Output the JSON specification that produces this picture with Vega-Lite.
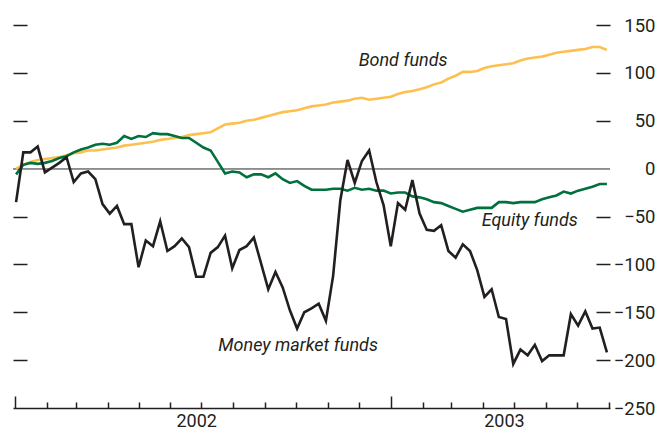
{
  "$schema": "https://vega.github.io/schema/vega-lite/v6.json",
  "width": 597,
  "height": 383,
  "autosize": {"type": "none"},
  "padding": {"left": 13, "top": 25, "right": 47, "bottom": 24},
  "background": "white",
  "config": {"view": {"stroke": null}, "font": "Liberation Sans Narrow, Roboto, sans-serif"},
  "datasets": {
    "flows": [
      {"d": "2002-01-02", "money": -35, "equity": -6, "bond": 0},
      {"d": "2002-01-09", "money": 17, "equity": 4, "bond": 4},
      {"d": "2002-01-16", "money": 17, "equity": 6, "bond": 7},
      {"d": "2002-01-23", "money": 23, "equity": 5, "bond": 9},
      {"d": "2002-01-30", "money": -4, "equity": 6, "bond": 10},
      {"d": "2002-02-06", "money": 1, "equity": 8, "bond": 11},
      {"d": "2002-02-13", "money": 6, "equity": 11, "bond": 12},
      {"d": "2002-02-20", "money": 12, "equity": 13, "bond": 14},
      {"d": "2002-02-27", "money": -14, "equity": 17, "bond": 16},
      {"d": "2002-03-06", "money": -5, "equity": 20, "bond": 17},
      {"d": "2002-03-13", "money": -3, "equity": 22, "bond": 19},
      {"d": "2002-03-20", "money": -11, "equity": 25, "bond": 19},
      {"d": "2002-03-27", "money": -37, "equity": 26, "bond": 20},
      {"d": "2002-04-03", "money": -47, "equity": 25, "bond": 21},
      {"d": "2002-04-10", "money": -39, "equity": 27, "bond": 22},
      {"d": "2002-04-17", "money": -58, "equity": 34, "bond": 24},
      {"d": "2002-04-24", "money": -58, "equity": 31, "bond": 25},
      {"d": "2002-05-01", "money": -103, "equity": 34, "bond": 26},
      {"d": "2002-05-08", "money": -75, "equity": 33, "bond": 27},
      {"d": "2002-05-15", "money": -81, "equity": 37, "bond": 28},
      {"d": "2002-05-22", "money": -55, "equity": 36, "bond": 30},
      {"d": "2002-05-29", "money": -86, "equity": 36, "bond": 31},
      {"d": "2002-06-05", "money": -81, "equity": 34, "bond": 32},
      {"d": "2002-06-12", "money": -73, "equity": 32, "bond": 33},
      {"d": "2002-06-19", "money": -82, "equity": 32, "bond": 35},
      {"d": "2002-06-26", "money": -113, "equity": 27, "bond": 36},
      {"d": "2002-07-03", "money": -113, "equity": 22, "bond": 37},
      {"d": "2002-07-10", "money": -88, "equity": 19, "bond": 38},
      {"d": "2002-07-17", "money": -82, "equity": 7, "bond": 42},
      {"d": "2002-07-24", "money": -70, "equity": -5, "bond": 46},
      {"d": "2002-07-31", "money": -104, "equity": -3, "bond": 47},
      {"d": "2002-08-07", "money": -85, "equity": -4, "bond": 48},
      {"d": "2002-08-14", "money": -81, "equity": -9, "bond": 50},
      {"d": "2002-08-21", "money": -72, "equity": -6, "bond": 51},
      {"d": "2002-08-28", "money": -99, "equity": -6, "bond": 53},
      {"d": "2002-09-04", "money": -126, "equity": -9, "bond": 55},
      {"d": "2002-09-11", "money": -108, "equity": -5, "bond": 57},
      {"d": "2002-09-18", "money": -124, "equity": -11, "bond": 59},
      {"d": "2002-09-25", "money": -148, "equity": -15, "bond": 60},
      {"d": "2002-10-02", "money": -167, "equity": -13, "bond": 61},
      {"d": "2002-10-09", "money": -150, "equity": -18, "bond": 63},
      {"d": "2002-10-16", "money": -146, "equity": -22, "bond": 65},
      {"d": "2002-10-23", "money": -141, "equity": -22, "bond": 66},
      {"d": "2002-10-30", "money": -159, "equity": -22, "bond": 67},
      {"d": "2002-11-06", "money": -112, "equity": -21, "bond": 69},
      {"d": "2002-11-13", "money": -33, "equity": -21, "bond": 70},
      {"d": "2002-11-20", "money": 9, "equity": -23, "bond": 71},
      {"d": "2002-11-27", "money": -15, "equity": -20, "bond": 73},
      {"d": "2002-12-04", "money": 8, "equity": -22, "bond": 74},
      {"d": "2002-12-11", "money": 19, "equity": -21, "bond": 72},
      {"d": "2002-12-18", "money": -14, "equity": -23, "bond": 73},
      {"d": "2002-12-25", "money": -38, "equity": -23, "bond": 74},
      {"d": "2003-01-01", "money": -81, "equity": -26, "bond": 75},
      {"d": "2003-01-08", "money": -36, "equity": -25, "bond": 78},
      {"d": "2003-01-15", "money": -43, "equity": -25, "bond": 80},
      {"d": "2003-01-22", "money": -12, "equity": -29, "bond": 81},
      {"d": "2003-01-29", "money": -47, "equity": -30, "bond": 83},
      {"d": "2003-02-05", "money": -64, "equity": -32, "bond": 85},
      {"d": "2003-02-12", "money": -65, "equity": -35, "bond": 88},
      {"d": "2003-02-19", "money": -59, "equity": -36, "bond": 90},
      {"d": "2003-02-26", "money": -86, "equity": -39, "bond": 94},
      {"d": "2003-03-05", "money": -93, "equity": -42, "bond": 97},
      {"d": "2003-03-12", "money": -79, "equity": -45, "bond": 101},
      {"d": "2003-03-19", "money": -86, "equity": -43, "bond": 101},
      {"d": "2003-03-26", "money": -106, "equity": -41, "bond": 102},
      {"d": "2003-04-02", "money": -134, "equity": -41, "bond": 105},
      {"d": "2003-04-09", "money": -126, "equity": -41, "bond": 107},
      {"d": "2003-04-16", "money": -155, "equity": -35, "bond": 108},
      {"d": "2003-04-23", "money": -157, "equity": -35, "bond": 109},
      {"d": "2003-04-30", "money": -204, "equity": -36, "bond": 110},
      {"d": "2003-05-07", "money": -189, "equity": -35, "bond": 113},
      {"d": "2003-05-14", "money": -195, "equity": -35, "bond": 115},
      {"d": "2003-05-21", "money": -184, "equity": -35, "bond": 116},
      {"d": "2003-05-28", "money": -201, "equity": -32, "bond": 117},
      {"d": "2003-06-04", "money": -195, "equity": -30, "bond": 119},
      {"d": "2003-06-11", "money": -195, "equity": -28, "bond": 121},
      {"d": "2003-06-18", "money": -195, "equity": -24, "bond": 122},
      {"d": "2003-06-25", "money": -152, "equity": -26, "bond": 123},
      {"d": "2003-07-02", "money": -164, "equity": -23, "bond": 124},
      {"d": "2003-07-09", "money": -149, "equity": -21, "bond": 125},
      {"d": "2003-07-16", "money": -167, "equity": -19, "bond": 127},
      {"d": "2003-07-23", "money": -166, "equity": -16, "bond": 127},
      {"d": "2003-07-30", "money": -192, "equity": -16, "bond": 124}
    ],
    "labels": [
      {"d": "2003-01-13", "v": 112, "t": "Bond funds"},
      {"d": "2003-05-16", "v": -55, "t": "Equity funds"},
      {"d": "2002-10-03", "v": -185, "t": "Money market funds"}
    ]
  },
  "resolve": {"axis": {"x": "independent", "y": "independent"}},
  "layer": [
    {
      "data": {"name": "labels"},
      "mark": {"type": "rule", "color": "#8c8c8c", "strokeWidth": 1.5},
      "encoding": {
        "y": {"datum": 0, "type": "quantitative", "axis": null,
              "scale": {"domain": [-250, 150], "nice": false, "zero": false}}
      }
    },
    {
      "data": {"name": "flows"},
      "transform": [{"fold": ["bond", "equity", "money"], "as": ["series", "value"]}],
      "mark": {"type": "line", "strokeWidth": 2.6, "strokeJoin": "miter"},
      "encoding": {
        "x": {
          "field": "d", "type": "temporal",
          "scale": {"type": "utc", "nice": false,
                    "domain": [{"year": 2001, "month": 12, "date": 30, "utc": true},
                               {"year": 2003, "month": 8, "date": 2, "utc": true}]},
          "axis": {
            "orient": "bottom",
            "title": null, "labels": false, "grid": false,
            "tickCount": {"interval": "month", "step": 1},
            "tickSize": {"condition": {"test": "utcmonth(datum.value) == 0", "value": -12}, "value": -6},
            "tickColor": "#231f20", "tickWidth": 1.5,
            "domainColor": "#231f20", "domainWidth": 1.5
          }
        },
        "y": {
          "field": "value", "type": "quantitative",
          "scale": {"domain": [-250, 150], "nice": false, "zero": false},
          "axis": {
            "orient": "left", "title": null, "labels": false, "grid": false, "domain": false,
            "values": [-200, -150, -100, -50, 50, 100, 150],
            "tickSize": -14, "tickWidth": 1.5, "tickColor": "#231f20"
          }
        },
        "color": {
          "field": "series", "type": "nominal", "legend": null,
          "scale": {"domain": ["bond", "equity", "money"], "range": ["#fdc04f", "#00703c", "#231f20"]}
        }
      }
    },
    {
      "data": {"name": "labels"},
      "mark": {"type": "text", "fontStyle": "italic", "fontSize": 18, "color": "#231f20", "align": "center", "baseline": "middle"},
      "encoding": {
        "x": {
          "field": "d", "type": "temporal",
          "scale": {"type": "utc"},
          "axis": {
            "orient": "bottom",
            "title": null, "grid": false, "ticks": false, "domain": false,
            "values": [{"year": 2002, "month": 6, "date": 26, "utc": true},
                       {"year": 2003, "month": 4, "date": 21, "utc": true}],
            "labelExpr": "utcFormat(datum.value, '%Y')",
            "labelFontSize": 18, "labelColor": "#231f20", "labelPadding": 4
          }
        },
        "y": {
          "field": "v", "type": "quantitative",
          "axis": {
            "orient": "right", "title": null, "grid": false, "domain": false,
            "values": [-250, -200, -150, -100, -50, 0, 50, 100, 150],
            "tickSize": -14, "tickWidth": 1.5,
            "tickColor": {"condition": {"test": "datum.value == 0 || datum.value == -250", "value": "transparent"}, "value": "#231f20"},
            "labelAlign": "right", "labelPadding": 59,
            "labelFontSize": 18.5, "labelColor": "#231f20"
          }
        },
        "text": {"field": "t", "type": "nominal"}
      }
    }
  ]
}
